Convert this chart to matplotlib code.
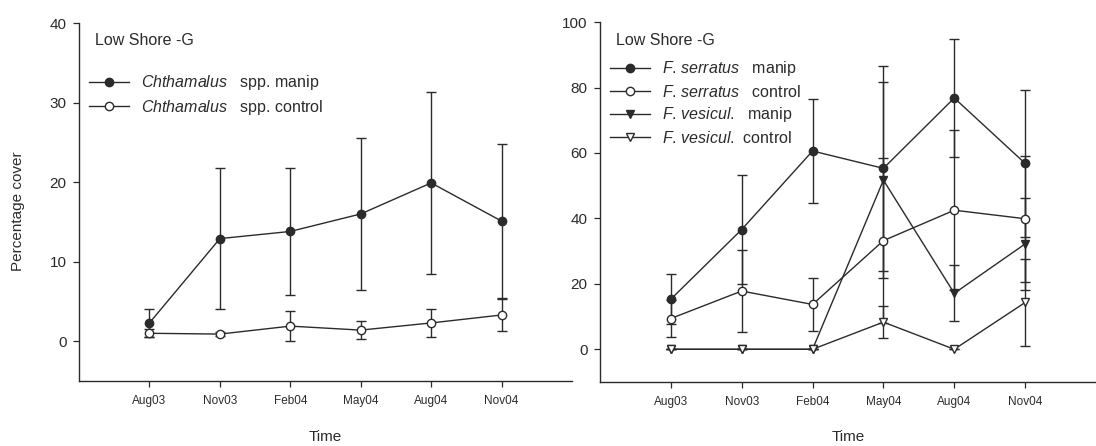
import matplotlib
matplotlib.use("Agg")
import matplotlib.pyplot as plt

plt.rcParams["font.family"] = ["Liberation Sans", "DejaVu Sans"]
plt.rcParams["mathtext.fontset"] = "custom"
plt.rcParams["mathtext.rm"] = "Liberation Sans"
plt.rcParams["mathtext.it"] = "Liberation Sans:italic"

# sampling dates
dates = ["Aug03", "Nov03", "Feb04", "May04", "Aug04", "Nov04"]

# Chthamalus spp. cover (mean, +/- error)
chth_manip = [2.3, 12.9, 13.8, 16.0, 19.9, 15.1]
chth_manip_err = [1.8, 8.9, 8.0, 9.5, 11.4, 9.7]
chth_ctrl = [1.0, 0.9, 1.9, 1.4, 2.3, 3.3]
chth_ctrl_err = [0.5, 0.3, 1.9, 1.1, 1.8, 2.0]

# Fucus cover (mean, +/- error)
serr_manip = [15.3, 36.6, 60.6, 55.3, 76.8, 56.8]
serr_manip_err = [7.7, 16.6, 15.8, 31.3, 17.9, 22.4]
serr_ctrl = [9.4, 17.8, 13.7, 33.2, 42.5, 39.9]
serr_ctrl_err = [5.6, 12.4, 8.2, 25.3, 24.5, 19.3]
ves_manip = [0, 0, 0, 51.7, 17.1, 32.2]
ves_manip_err = [0, 0, 0, 30.0, 8.6, 14.0]
ves_ctrl = [0, 0, 0, 8.3, 0, 14.3]
ves_ctrl_err = [0, 0, 0, 5.0, 0, 13.4]

labels_left = [r"$\mathit{Chthamalus}$   spp. manip",
               r"$\mathit{Chthamalus}$   spp. control"]
labels_right = [r"$\mathit{F}$. $\mathit{serratus}$   manip",
                r"$\mathit{F}$. $\mathit{serratus}$   control",
                r"$\mathit{F}$. $\mathit{vesicul}$.   manip",
                r"$\mathit{F}$. $\mathit{vesicul}$.  control"]

INK = "#2b2b2b"
x = list(range(len(dates)))

fig = plt.figure(figsize=(10.96, 4.46), dpi=100)
ax1 = fig.add_axes([0.0721, 0.1457, 0.4498, 0.8027])
ax2 = fig.add_axes([0.5474, 0.1435, 0.4526, 0.8070])


def series(ax, y, err, marker, face):
    c = ax.errorbar(x, y, yerr=err, color=INK, lw=1.0, elinewidth=1.0,
                    capsize=3.8, capthick=1.0, marker=marker, markersize=6,
                    markerfacecolor=face, markeredgecolor=INK,
                    markeredgewidth=1.0)
    # legend shows only the line + marker, not the error bar
    return c.lines[0]


h1 = [
    series(ax1, chth_manip, chth_manip_err, "o", INK),
    series(ax1, chth_ctrl, chth_ctrl_err, "o", "white"),
]
h2 = [
    series(ax2, serr_manip, serr_manip_err, "o", INK),
    series(ax2, serr_ctrl, serr_ctrl_err, "o", "white"),
    series(ax2, ves_manip, ves_manip_err, "v", INK),
    series(ax2, ves_ctrl, ves_ctrl_err, "v", "white"),
]

for ax, ylim, yt in [(ax1, (-5, 40), [0, 10, 20, 30, 40]),
                     (ax2, (-10, 100), [0, 20, 40, 60, 80, 100])]:
    ax.set_xlim(-1, 6)
    ax.set_ylim(*ylim)
    ax.set_yticks(yt)
    ax.set_xticks(x)
    ax.set_xticklabels(dates, fontsize=8.5)
    ax.tick_params(axis="y", labelsize=11, length=4, width=0.9, pad=5, colors=INK)
    ax.tick_params(axis="x", length=4, width=0.9, pad=6, colors=INK)
    for s in ["top", "right"]:
        ax.spines[s].set_visible(False)
    for s in ["left", "bottom"]:
        ax.spines[s].set_linewidth(1.0)
        ax.spines[s].set_color(INK)
    ax.set_xlabel("Time", fontsize=11, color=INK)
    ax.text(0.033, 0.95, "Low Shore -G", transform=ax.transAxes, fontsize=11.5,
            color=INK, va="center", ha="left")

ax1.xaxis.set_label_coords(0.5, -0.137)
ax2.xaxis.set_label_coords(0.5, -0.133)
ax1.set_ylabel("Percentage cover", fontsize=11, color=INK)
ax1.yaxis.set_label_coords(-0.11, 0.475)

ax1.legend(h1, labels_left, loc="upper left", bbox_to_anchor=(0.02, 0.859),
           frameon=False, fontsize=11.5, handlelength=2.5, handletextpad=0.75,
           labelspacing=0.35, borderpad=0, borderaxespad=0, labelcolor=INK)
ax2.legend(h2, labels_right, loc="upper left", bbox_to_anchor=(0.02, 0.897),
           frameon=False, fontsize=11.5, handlelength=2.5, handletextpad=0.75,
           labelspacing=0.35, borderpad=0, borderaxespad=0, labelcolor=INK)

fig.savefig("out.png", dpi=100)
